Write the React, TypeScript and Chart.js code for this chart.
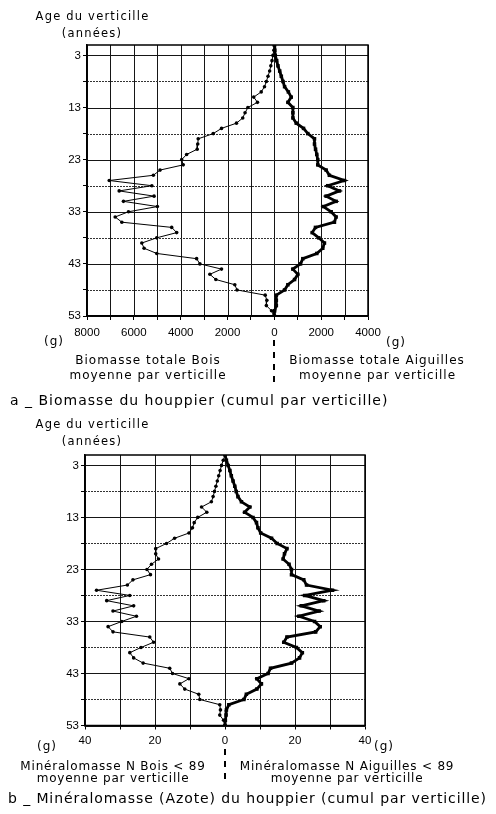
import React, { useEffect, useRef } from 'react';
import { Chart, registerables } from 'chart.js';

Chart.register(...registerables);

// ---------- data ----------
const ages = [1, 2, 3, 4, 5, 6, 7, 8, 9, 10, 11, 12, 13, 14, 15, 16, 17, 18, 19, 20, 21, 22, 23, 24, 25, 26, 27, 28, 29, 30, 31, 32, 33, 34, 35, 36, 37, 38, 39, 40, 41, 42, 43, 44, 45, 46, 47, 48, 49, 50, 51, 52, 53];

// Biomasse totale Bois (g), moyenne par verticille
const biomasseBois = [0, 20, 60, 100, 150, 200, 270, 340, 420, 560, 880, 720, 1130, 1250, 1350, 1617, 2255, 2610, 3251, 3270, 3294, 3745, 3957, 3890, 4880, 5166, 7050, 5230, 6626, 5136, 6443, 4995, 6230, 6796, 6511, 4383, 4170, 5021, 5660, 5562, 5021, 3319, 3179, 2255, 2753, 2498, 1689, 1591, 390, 320, 340, 120, 20];
// Biomasse totale Aiguilles (g)
const biomasseAiguilles = [0, 20, 40, 100, 155, 230, 298, 370, 438, 600, 723, 580, 791, 792, 793, 936, 1247, 1430, 1715, 1715, 1760, 1813, 1855, 1855, 2213, 2350, 2991, 2281, 2779, 2213, 2638, 2098, 2426, 2638, 2566, 1757, 1617, 1898, 2140, 2068, 1813, 1217, 1119, 791, 1004, 864, 579, 438, 85, 85, 85, 13, 0];

// Minéralomasse N Bois < 89 (g)
const mineralBois = [0, 0.5, 1.0, 1.4, 1.8, 2.2, 2.6, 3.0, 3.4, 3.9, 6.7, 5.2, 7.8, 8.8, 9.3, 10.3, 14.4, 16.7, 19.8, 19.8, 19.0, 21.0, 22.3, 21.3, 26.3, 27.9, 36.7, 27.2, 33.8, 26.1, 32.0, 25.3, 29.5, 33.4, 32.0, 21.5, 20.4, 24.0, 27.2, 26.1, 23.4, 15.8, 15.0, 10.3, 12.9, 11.5, 7.5, 7.2, 1.5, 1.3, 1.5, 0.4, 0];
// Minéralomasse N Aiguilles < 89 (g)
const mineralAiguilles = [0, 0.4, 0.9, 1.4, 1.8, 2.3, 2.8, 3.2, 3.7, 4.7, 7.1, 5.6, 8.0, 9.0, 9.4, 10.2, 13.3, 14.9, 17.7, 17.0, 16.6, 18.3, 19.0, 19.0, 22.5, 23.3, 30.7, 22.8, 28.2, 21.8, 26.9, 21.1, 25.6, 27.2, 25.9, 17.7, 16.8, 20.4, 22.1, 21.3, 19.0, 13.0, 12.3, 9.1, 10.4, 9.1, 6.1, 5.4, 1.1, 0.4, 0.3, 0.1, 0];

// tick values
const ageMajorTicks = [3, 13, 23, 33, 43, 53];
const ageMinorTicks = [8, 18, 28, 38, 48];
const biomasseGrid = [-8000, -7000, -6000, -5000, -4000, -3000, -2000, -1000, 0, 1000, 2000, 3000, 4000];
const biomasseLabels = [-8000, -6000, -4000, -2000, 0, 2000, 4000];
const mineralGrid = [-40, -30, -20, -10, 0, 10, 20, 30, 40];
const mineralLabels = [-40, -20, 0, 20, 40];

const FONT = '"DejaVu Sans", "Liberation Sans", sans-serif';

function makeGridPlugin(xGrid: number[]) {
  return {
    id: 'paperGrid',
    beforeDatasetsDraw(chart: any) {
      const ctx = chart.ctx;
      const a = chart.chartArea;
      const xs = chart.scales.x;
      const ys = chart.scales.y;
      ctx.save();
      ctx.setLineDash([]);
      ctx.globalAlpha = 1;
      ctx.lineWidth = 1;
      ctx.strokeStyle = '#161616';
      for (const v of xGrid) {
        const px = Math.round(xs.getPixelForValue(v)) + 0.5;
        ctx.beginPath();
        ctx.moveTo(px, a.top);
        ctx.lineTo(px, a.bottom);
        ctx.stroke();
      }
      for (const v of ageMajorTicks) {
        const py = Math.round(ys.getPixelForValue(v)) + 0.5;
        ctx.beginPath();
        ctx.moveTo(a.left, py);
        ctx.lineTo(a.right, py);
        ctx.stroke();
      }
      ctx.strokeStyle = '#333';
      ctx.setLineDash([2, 1]);
      for (const v of ageMinorTicks) {
        const py = Math.round(ys.getPixelForValue(v)) + 0.5;
        ctx.beginPath();
        ctx.moveTo(a.left, py);
        ctx.lineTo(a.right, py);
        ctx.stroke();
      }
      ctx.setLineDash([]);
      ctx.strokeStyle = '#000';
      ctx.lineWidth = 1.5;
      ctx.strokeRect(a.left, a.top, a.width, a.height);
      ctx.restore();
    },
  };
}

interface PanelCfg {
  left: number[];
  right: number[];
  xGrid: number[];
  xLabels: number[];
  yAxisWidth: number;
  padRight: number;
  padTop: number;
  xAxisHeight: number;
  xTickPad: number;
}

function makeChart(canvas: HTMLCanvasElement, cfg: PanelCfg) {
  const leftData = ages.map((a, i) => ({ x: -cfg.left[i], y: a }));
  const rightData = ages.map((a, i) => ({ x: cfg.right[i], y: a }));
  return new Chart(canvas, {
    type: 'scatter',
    data: {
      datasets: [
        {
          data: leftData,
          showLine: true,
          borderColor: '#000',
          backgroundColor: '#000',
          borderWidth: 1,
          pointRadius: 1.8,
          pointBorderWidth: 0,
          pointStyle: 'circle',
        } as any,
        {
          data: rightData,
          showLine: true,
          borderColor: '#000',
          backgroundColor: '#000',
          borderWidth: 2.8,
          pointRadius: 2.5,
          pointBorderWidth: 0,
          pointStyle: 'rect',
        } as any,
      ],
    },
    options: {
      responsive: false,
      animation: false,
      layout: { padding: { left: 0, right: cfg.padRight, top: cfg.padTop, bottom: 0 } },
      plugins: {
        legend: { display: false },
        tooltip: { enabled: false },
      },
      scales: {
        x: {
          type: 'linear',
          min: cfg.xGrid[0],
          max: cfg.xGrid[cfg.xGrid.length - 1],
          afterBuildTicks: (s: any) => {
            s.ticks = cfg.xGrid.map((v) => ({ value: v }));
          },
          afterFit: (s: any) => {
            s.height = cfg.xAxisHeight;
          },
          grid: { drawOnChartArea: false, drawTicks: true, tickLength: 4, color: '#000' },
          border: { display: true, color: '#000', width: 1.5 },
          ticks: {
            autoSkip: false,
            maxRotation: 0,
            padding: cfg.xTickPad,
            color: '#000',
            font: { family: '"Liberation Sans", sans-serif', size: 11.5 },
            callback: (v: any) => (cfg.xLabels.includes(Number(v)) ? String(Math.abs(Number(v))) : ''),
          },
        },
        y: {
          type: 'linear',
          reverse: true,
          min: 1,
          max: 53,
          afterBuildTicks: (s: any) => {
            const all = [...ageMajorTicks, ...ageMinorTicks].sort((p, q) => p - q);
            s.ticks = all.map((v) => ({ value: v }));
          },
          afterFit: (s: any) => {
            s.width = cfg.yAxisWidth;
          },
          grid: { drawOnChartArea: false, drawTicks: true, tickLength: 4, color: '#000' },
          border: { display: true, color: '#000', width: 1.5 },
          ticks: {
            autoSkip: false,
            padding: 2,
            color: '#000',
            font: { family: '"Liberation Sans", sans-serif', size: 11.5 },
            callback: (v: any) => (ageMajorTicks.includes(Number(v)) ? String(v) : ''),
          },
        },
      },
    },
    plugins: [makeGridPlugin(cfg.xGrid) as any],
  });
}

const Txt: React.FC<{ x: number; y: number; size?: number; ls?: number; align?: 'center' | 'left'; children: React.ReactNode }> = ({ x, y, size = 12, ls = 1, align = 'center', children }) => (
  <div
    style={{
      position: 'absolute',
      left: x,
      top: y,
      transform: align === 'center' ? 'translate(-50%, -50%)' : 'translate(0, -50%)',
      whiteSpace: 'nowrap',
      fontFamily: FONT,
      fontSize: size,
      letterSpacing: ls,
      color: '#000',
      lineHeight: 1.2,
    }}
  >
    {children}
  </div>
);

const Dash: React.FC<{ x: number; y: number; h: number }> = ({ x, y, h }) => (
  <div
    style={{
      position: 'absolute',
      left: x - 1,
      top: y,
      width: 2,
      height: h,
      background: 'repeating-linear-gradient(to bottom, #000 0px, #000 6px, transparent 6px, transparent 12px)',
    }}
  />
);

export default function App() {
  const topRef = useRef<HTMLCanvasElement>(null);
  const botRef = useRef<HTMLCanvasElement>(null);

  useEffect(() => {
    const c1 = makeChart(topRef.current!, {
      left: biomasseBois,
      right: biomasseAiguilles,
      xGrid: biomasseGrid,
      xLabels: biomasseLabels,
      yAxisWidth: 87,
      padRight: 128,
      padTop: 45,
      xAxisHeight: 34,
      xTickPad: 6,
    });
    const c2 = makeChart(botRef.current!, {
      left: mineralBois,
      right: mineralAiguilles,
      xGrid: mineralGrid,
      xLabels: mineralLabels,
      yAxisWidth: 85,
      padRight: 131,
      padTop: 45,
      xAxisHeight: 34.5,
      xTickPad: 4,
    });
    return () => {
      c1.destroy();
      c2.destroy();
    };
  }, []);

  return (
    <div style={{ position: 'relative', width: 496, height: 814, background: '#fff' }}>
      <style>{'html, body { margin: 0; padding: 0; }'}</style>
      <canvas ref={topRef} width={496} height={350} style={{ position: 'absolute', left: 0, top: 0 }} />
      <canvas ref={botRef} width={496} height={350} style={{ position: 'absolute', left: 0, top: 410 }} />

      <Txt x={92.5} y={17} size={11.5} ls={1.2}>Age du verticille</Txt>
      <Txt x={92} y={34} size={11.5} ls={1.2}>(années)</Txt>
      <Txt x={54} y={341} size={12} ls={1}>(g)</Txt>
      <Txt x={396} y={342} size={12} ls={1}>(g)</Txt>
      <Txt x={148} y={360} size={12} ls={1}>Biomasse totale Bois</Txt>
      <Txt x={148} y={375} size={12} ls={1}>moyenne par verticille</Txt>
      <Txt x={377} y={360} size={12} ls={1}>Biomasse totale Aiguilles</Txt>
      <Txt x={377.5} y={375} size={12} ls={1}>moyenne par verticille</Txt>
      <Dash x={274} y={340} h={46} />
      <Txt x={10} y={400} size={14} ls={1} align="left">a _ Biomasse du houppier (cumul par verticille)</Txt>

      <Txt x={92.5} y={425} size={11.5} ls={1.2}>Age du verticille</Txt>
      <Txt x={92} y={442} size={11.5} ls={1.2}>(années)</Txt>
      <Txt x={47} y={746} size={12} ls={1}>(g)</Txt>
      <Txt x={384} y={746} size={12} ls={1}>(g)</Txt>
      <Txt x={113} y={766} size={12} ls={0.8}>Minéralomasse N Bois &lt; 89</Txt>
      <Txt x={113} y={778} size={12} ls={0.8}>moyenne par verticille</Txt>
      <Txt x={347} y={766} size={12} ls={0.8}>Minéralomasse N Aiguilles &lt; 89</Txt>
      <Txt x={347} y={778} size={12} ls={0.8}>moyenne par verticille</Txt>
      <Dash x={225} y={749} h={33} />
      <Txt x={8} y={798} size={14} ls={0.9} align="left">b _ Minéralomasse (Azote) du houppier (cumul par verticille)</Txt>
    </div>
  );
}
